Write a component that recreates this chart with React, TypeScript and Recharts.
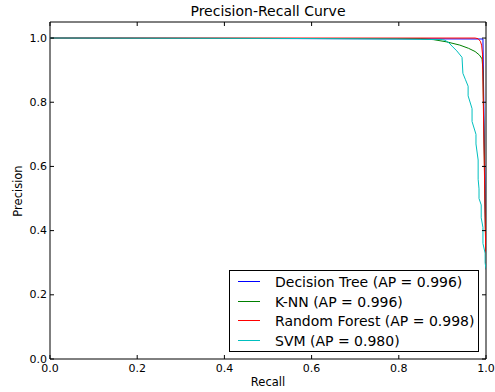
import React from 'react';
import { LineChart, Line, XAxis, YAxis, ReferenceArea } from 'recharts';

const seriesNames = ['Decision Tree (AP = 0.996)', 'K-NN (AP = 0.996)', 'Random Forest (AP = 0.998)', 'SVM (AP = 0.980)'];
const seriesColors = ['#0000ff', '#008000', '#ff0000', '#00bfbf'];

const xTicks = [0, 0.2, 0.4, 0.6, 0.8, 1.0];
const yTicks = [0, 0.2, 0.4, 0.6, 0.8, 1.0];

const dtRecall = [0, 0.993, 1.0];
const dtPrecision = [1.0, 0.997, 0.28];

const knnRecall = [0, 0.85, 0.88, 0.91, 0.94, 0.96, 0.975, 0.985, 0.991, 0.993, 1.0];
const knnPrecision = [1.0, 0.998, 0.995, 0.988, 0.978, 0.968, 0.958, 0.947, 0.935, 0.9, 0.28];

const rfRecall = [0, 0.975, 0.982, 0.987, 0.99, 0.992, 1.0];
const rfPrecision = [1.0, 1.0, 0.998, 0.99, 0.978, 0.95, 0.28];

const svmRecall = [0, 0.5, 0.8, 0.9, 0.906, 0.915, 0.922, 0.933, 0.945, 0.947, 0.953, 0.959, 0.959, 0.968, 0.968, 0.977, 0.977, 0.982, 0.982, 0.984, 0.984, 0.989, 0.989, 0.993, 0.993, 0.998, 0.998, 1.0];
const svmPrecision = [1.0, 0.999, 0.997, 0.995, 0.993, 0.985, 0.975, 0.96, 0.94, 0.89, 0.87, 0.85, 0.82, 0.78, 0.74, 0.7, 0.67, 0.62, 0.56, 0.53, 0.5, 0.48, 0.44, 0.41, 0.36, 0.33, 0.3, 0.28];

const build = (r: number[], p: number[]) => r.map((v, i) => ({ recall: v, precision: p[i] }));
const seriesData = [
  build(dtRecall, dtPrecision),
  build(knnRecall, knnPrecision),
  build(rfRecall, rfPrecision),
  build(svmRecall, svmPrecision),
];

const W = 495;
const H = 392;
const LEFT = 50;
const RIGHT = 486;
const TOP = 22;
const BOTTOM = 359;
const TICK = 4;
const FONT = '"DejaVu Sans", sans-serif';

const fmt = (v: number) => v.toFixed(1);

const renderXTick = (props: any) => {
  const { x, payload } = props;
  return (
    <g key={`xt-${payload.value}`}>
      <line x1={x} x2={x} y1={BOTTOM} y2={BOTTOM - TICK} stroke="#000" strokeWidth={1} />
      <line x1={x} x2={x} y1={TOP} y2={TOP + TICK} stroke="#000" strokeWidth={1} />
      <text x={x} y={BOTTOM + 9} textAnchor="middle" dominantBaseline="central" fontSize={11} fontFamily={FONT} fill="#000">
        {fmt(payload.value)}
      </text>
    </g>
  );
};

const renderYTick = (props: any) => {
  const { y, payload } = props;
  return (
    <g key={`yt-${payload.value}`}>
      <line x1={LEFT} x2={LEFT + TICK} y1={y} y2={y} stroke="#000" strokeWidth={1} />
      <line x1={RIGHT} x2={RIGHT - TICK} y1={y} y2={y} stroke="#000" strokeWidth={1} />
      <text x={LEFT - 3} y={y} textAnchor="end" dominantBaseline="central" fontSize={11} fontFamily={FONT} fill="#000">
        {fmt(payload.value)}
      </text>
    </g>
  );
};

export default function App() {
  return (
    <div style={{ position: 'absolute', left: 0, top: 0, width: W, height: H, background: '#fff' }}>
      <LineChart width={W} height={H} margin={{ top: TOP, right: W - RIGHT, bottom: 0, left: 0 }}>
        <XAxis
          type="number"
          dataKey="recall"
          domain={[0, 1]}
          ticks={xTicks}
          height={H - BOTTOM}
          tickLine={false}
          axisLine={false}
          tick={renderXTick}
          interval={0}
          allowDataOverflow
        />
        <YAxis
          type="number"
          dataKey="precision"
          domain={[0, 1.05]}
          ticks={yTicks}
          width={LEFT}
          tickLine={false}
          axisLine={false}
          tick={renderYTick}
          interval={0}
          allowDataOverflow
        />
        {seriesData.map((d, i) => (
          <Line
            key={seriesNames[i]}
            data={d}
            dataKey="precision"
            name={seriesNames[i]}
            stroke={seriesColors[i]}
            strokeWidth={1}
            dot={false}
            activeDot={false}
            type="linear"
            isAnimationActive={false}
          />
        ))}
        <ReferenceArea x1={0} x2={1} y1={0} y2={1.05} fill="none" stroke="#000" strokeWidth={1} fillOpacity={0} ifOverflow="visible" />
      </LineChart>
      <div style={{ position: 'absolute', left: (LEFT + RIGHT) / 2, top: 3, transform: 'translateX(-50%)', fontFamily: FONT, fontSize: 14, lineHeight: '16px', whiteSpace: 'nowrap' }}>
        Precision-Recall Curve
      </div>
      <div style={{ position: 'absolute', left: (LEFT + RIGHT) / 2, top: 375, transform: 'translateX(-50%)', fontFamily: FONT, fontSize: 11.5, lineHeight: '14px', whiteSpace: 'nowrap' }}>
        Recall
      </div>
      <div style={{ position: 'absolute', left: 18, top: (TOP + BOTTOM) / 2, transform: 'translate(-50%, -50%) rotate(-90deg)', fontFamily: FONT, fontSize: 11.5, lineHeight: '14px', whiteSpace: 'nowrap' }}>
        Precision
      </div>
      <div style={{ position: 'absolute', left: 229, top: 270, width: 250, height: 82, border: '1px solid #000', boxSizing: 'border-box', background: '#fff' }}>
        {seriesNames.map((n, i) => (
          <React.Fragment key={n}>
            <div style={{ position: 'absolute', left: 8, top: 10 + i * 19.7, width: 22, height: 1, background: seriesColors[i] }} />
            <div style={{ position: 'absolute', left: 45, top: 1 + i * 19.7, fontFamily: FONT, fontSize: 14, lineHeight: '20px', color: '#000', whiteSpace: 'nowrap' }}>{n}</div>
          </React.Fragment>
        ))}
      </div>
    </div>
  );
}
